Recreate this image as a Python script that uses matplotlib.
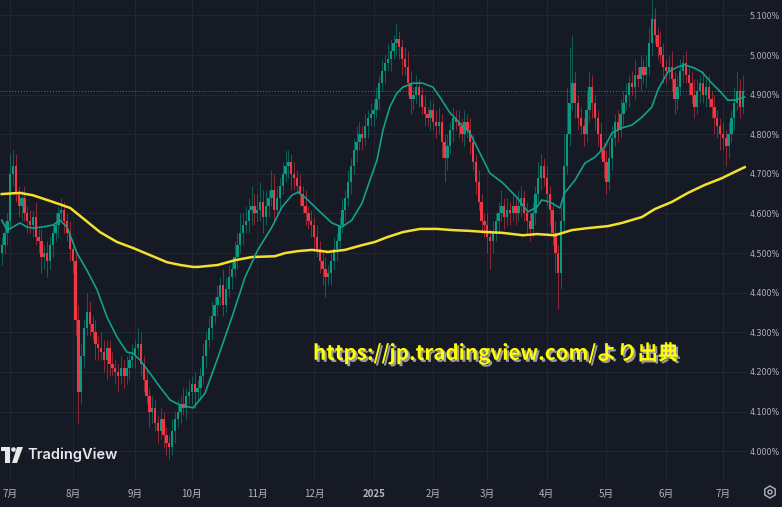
import numpy as np
import matplotlib.pyplot as plt
import matplotlib.patches as mpatches
import matplotlib.patheffects as pe

plt.rcParams['font.family'] = ['Noto Sans CJK JP', 'DejaVu Sans']

# daily closes (%), 2024-06-26 .. 2025-07-10
closes = [
    4.52, 4.55, 4.58, 4.70, 4.72, 4.65, 4.62, 4.64, 4.60, 4.58,
    4.57, 4.59, 4.54, 4.53, 4.49, 4.50, 4.48, 4.52, 4.55, 4.57,
    4.60, 4.61, 4.58, 4.55, 4.51, 4.48, 4.33, 4.15, 4.24, 4.31,
    4.35, 4.32, 4.30, 4.27, 4.26, 4.25, 4.23, 4.26, 4.22, 4.21,
    4.20, 4.19, 4.21, 4.19, 4.21, 4.23, 4.24, 4.26, 4.27, 4.22,
    4.18, 4.14, 4.10, 4.11, 4.07, 4.05, 4.08, 4.04, 4.02, 4.01,
    4.05, 4.08, 4.10, 4.12, 4.11, 4.14, 4.15, 4.17, 4.15, 4.16,
    4.19, 4.24, 4.28, 4.31, 4.34, 4.37, 4.39, 4.42, 4.37, 4.41,
    4.44, 4.46, 4.49, 4.52, 4.55, 4.57, 4.58, 4.61, 4.62, 4.60,
    4.61, 4.63, 4.59, 4.62, 4.64, 4.66, 4.61, 4.64, 4.67, 4.70,
    4.72, 4.73, 4.70, 4.69, 4.67, 4.65, 4.62, 4.60, 4.58, 4.57,
    4.54, 4.51, 4.48, 4.46, 4.44, 4.45, 4.48, 4.51, 4.53, 4.57,
    4.61, 4.64, 4.68, 4.72, 4.76, 4.78, 4.80, 4.79, 4.82, 4.84,
    4.85, 4.86, 4.89, 4.93, 4.96, 4.98, 4.99, 5.01, 5.03, 5.04,
    5.02, 4.99, 4.97, 4.93, 4.89, 4.90, 4.92, 4.90, 4.87, 4.85,
    4.84, 4.86, 4.83, 4.82, 4.83, 4.78, 4.74, 4.77, 4.81, 4.84,
    4.83, 4.82, 4.80, 4.83, 4.81, 4.78, 4.73, 4.68, 4.63, 4.58,
    4.57, 4.54, 4.53, 4.55, 4.58, 4.60, 4.62, 4.59, 4.61, 4.60,
    4.62, 4.60, 4.62, 4.64, 4.60, 4.58, 4.56, 4.60, 4.65, 4.69,
    4.72, 4.69, 4.65, 4.61, 4.55, 4.50, 4.45, 4.58, 4.72, 4.80,
    4.88, 4.93, 4.88, 4.84, 4.82, 4.80, 4.86, 4.92, 4.88, 4.84,
    4.80, 4.76, 4.73, 4.68, 4.74, 4.79, 4.83, 4.81, 4.85, 4.88,
    4.90, 4.93, 4.92, 4.95, 4.94, 4.97, 4.95, 4.97, 5.03, 5.09,
    5.05, 5.02, 5.00, 4.97, 4.96, 4.97, 4.94, 4.89, 4.92, 4.96,
    4.98, 4.95, 4.93, 4.90, 4.87, 4.91, 4.93, 4.90, 4.92, 4.89,
    4.87, 4.84, 4.82, 4.80, 4.79, 4.77, 4.80, 4.84, 4.88, 4.91,
    4.87, 4.91,
]
first_open = 4.50

# wick lengths above / below the body, in 0.01 %
hi_ext = [
    2, 3, 2, 5, 4, 3, 2, 2, 3, 2,   3, 2, 4, 2, 3, 2, 3, 2, 2, 3,
    2, 3, 2, 2, 3, 2, 3, 4, 3, 2,   5, 3, 2, 3, 2, 4, 3, 2, 2, 3,
    2, 2, 3, 2, 3, 2, 3, 2, 4, 3,   2, 3, 2, 3, 2, 2, 3, 2, 2, 2,
    3, 2, 3, 2, 4, 2, 3, 2, 3, 2,   2, 3, 2, 3, 4, 2, 3, 2, 4, 3,
    3, 2, 4, 3, 5, 3, 4, 3, 5, 3,   4, 5, 3, 4, 2, 5, 4, 3, 2, 3,
    4, 3, 2, 3, 2, 3, 2, 4, 2, 3,   2, 3, 2, 2, 3, 2, 2, 3, 2, 2,
    3, 2, 3, 2, 3, 4, 3, 2, 3, 2,   3, 2, 3, 2, 3, 2, 4, 3, 2, 4,
    2, 2, 3, 4, 3, 2, 3, 2, 2, 3,   2, 3, 2, 3, 4, 2, 2, 3, 2, 3,
    2, 3, 2, 3, 2, 3, 2, 2, 3, 2,   2, 3, 2, 3, 2, 3, 4, 2, 3, 2,
    3, 2, 4, 3, 2, 3, 2, 3, 2, 4,   3, 2, 3, 2, 2, 3, 2, 4, 8, 12,
    14, 12, 3, 2, 3, 2, 5, 4, 3, 2,  2, 3, 2, 3, 4, 3, 2, 3, 4, 3,
    3, 2, 3, 4, 2, 3, 2, 3, 4, 5,   3, 2, 4, 3, 2, 3, 4, 2, 3, 3,
    2, 3, 2, 3, 4, 3, 2, 3, 2, 3,   2, 3, 2, 2, 3, 2, 3, 2, 4, 5,
    3, 4,
]
lo_ext = [
    3, 2, 3, 2, 3, 2, 3, 4, 2, 3,   2, 3, 2, 3, 4, 3, 4, 2, 3, 2,
    3, 2, 3, 2, 3, 3, 4, 8, 3, 3,   2, 3, 2, 4, 3, 2, 3, 5, 3, 2,
    3, 4, 2, 3, 2, 3, 2, 3, 2, 3,   3, 2, 4, 3, 2, 3, 2, 3, 3, 3,
    2, 3, 2, 3, 2, 3, 2, 3, 4, 2,   3, 2, 3, 2, 3, 2, 3, 2, 3, 2,
    2, 3, 2, 3, 2, 3, 2, 3, 4, 3,   2, 3, 4, 2, 3, 2, 3, 2, 3, 2,
    2, 3, 4, 3, 2, 3, 2, 3, 2, 3,   3, 2, 3, 4, 5, 2, 3, 2, 3, 2,
    2, 3, 2, 3, 2, 3, 2, 3, 2, 3,   2, 3, 2, 3, 2, 3, 2, 3, 2, 3,
    3, 4, 2, 3, 4, 3, 2, 3, 2, 3,   2, 3, 2, 3, 2, 4, 6, 3, 2, 3,
    2, 3, 2, 3, 2, 3, 2, 3, 2, 3,   3, 4, 7, 3, 2, 3, 2, 3, 2, 3,
    2, 3, 2, 3, 2, 3, 3, 2, 3, 2,   3, 2, 3, 4, 3, 5, 9, 4, 3, 2,
    3, 2, 4, 3, 2, 3, 2, 3, 4, 3,   3, 2, 4, 3, 2, 3, 2, 3, 2, 3,
    2, 3, 2, 3, 2, 3, 2, 3, 2, 3,   2, 3, 2, 4, 3, 2, 3, 4, 3, 2,
    3, 2, 3, 2, 3, 2, 3, 2, 3, 2,   3, 4, 3, 4, 3, 5, 3, 2, 3, 2,
    3, 2,
]

# short moving average (teal), sampled
ma_s_idx = [0, 1.9, 4, 6.4, 8.9, 11, 14.5, 18.1, 20.5, 23, 26.5, 30, 33.6, 37.1, 40.6,
            44.1, 46.2, 48.7, 52.2, 55.7, 59.3, 62.8, 66.3, 67.4, 71.6, 76.2, 81.1,
            85.7, 90.2, 95.2, 98.7, 102.2, 104.3, 106.8, 111.4, 116.3, 119.8, 123.3,
            126.9, 129.7, 132.2, 134.3, 136.7, 139.2, 141.3, 144.8, 148.3, 151.9,
            154.3, 157.9, 161.4, 164.9, 168.4, 171.9, 176.5, 181.4, 185.3, 188.5,
            190.2, 193.1, 196.6, 198.3, 201.9, 205.4, 208.9, 212.4, 214.9, 218.4,
            221.9, 225.5, 229, 231.1, 234.6, 238.1, 240.6, 244.1, 246.6, 250.1,
            253.6, 255.7, 258.2, 261.7]
ma_s_val = [4.583, 4.558, 4.566, 4.576, 4.566, 4.563, 4.566, 4.571, 4.583, 4.566, 4.500,
            4.457, 4.407, 4.338, 4.288, 4.250, 4.247, 4.230, 4.197, 4.162, 4.129, 4.116,
            4.111, 4.109, 4.146, 4.237, 4.338, 4.439, 4.508, 4.566, 4.616, 4.646, 4.654,
            4.641, 4.609, 4.576, 4.566, 4.583, 4.626, 4.684, 4.735, 4.811, 4.869, 4.904,
            4.919, 4.929, 4.929, 4.919, 4.894, 4.854, 4.828, 4.803, 4.753, 4.702, 4.677,
            4.641, 4.604, 4.616, 4.634, 4.629, 4.614, 4.652, 4.684, 4.727, 4.742, 4.768,
            4.803, 4.816, 4.823, 4.843, 4.869, 4.912, 4.957, 4.970, 4.975, 4.967, 4.957,
            4.929, 4.904, 4.886, 4.886, 4.894]

# long moving average (yellow), sampled
ma_l_idx = [0, 6.4, 11, 18.1, 24.1, 28.6, 34.6, 40.6, 46.2, 52.2, 58.2, 62.8, 67.4, 69.1,
            76.2, 82.1, 88.1, 96.2, 99.8, 104.3, 109.3, 114.9, 120.9, 126.9, 131.4,
            135.7, 141.3, 147.3, 153.3, 158.9, 164.9, 170.9, 176.5, 183.6, 188.5,
            194.8, 200.8, 206.4, 213.5, 218.4, 225.5, 230, 236, 241.7, 247.6, 253.6,
            258.2, 261.7]
ma_l_val = [4.649, 4.652, 4.646, 4.629, 4.614, 4.588, 4.553, 4.528, 4.513, 4.495, 4.477,
            4.470, 4.465, 4.465, 4.470, 4.482, 4.490, 4.492, 4.500, 4.505, 4.508, 4.503,
            4.508, 4.520, 4.528, 4.540, 4.553, 4.561, 4.561, 4.558, 4.556, 4.553, 4.551,
            4.545, 4.548, 4.545, 4.558, 4.563, 4.568, 4.576, 4.591, 4.611, 4.629, 4.652,
            4.672, 4.689, 4.705, 4.717]

month_idx = [3, 25, 47, 67, 90, 110, 131, 152, 171, 192, 213, 234, 254]
month_lab = ['7月', '8月', '9月', '10月', '11月', '12月', '2025', '2月', '3月', '4月', '5月', '6月', '7月']
y_ticks = [4.0, 4.1, 4.2, 4.3, 4.4, 4.5, 4.6, 4.7, 4.8, 4.9, 5.0, 5.1]
last_price = 4.909

bg = '#151a25'
up = '#089981'
down = '#f23645'

c = np.array(closes)
o = np.array([first_open] + closes[:-1])
hi = np.maximum(o, c) + np.array(hi_ext) * 0.01
lo = np.minimum(o, c) - np.array(lo_ext) * 0.01
x = np.arange(len(c))
is_up = c >= o
cols = np.where(is_up, up, down)

fig = plt.figure(figsize=(7.82, 5.07), dpi=100, facecolor=bg)
ax = fig.add_axes([0, 25 / 507, 747 / 782, 482 / 507])
ax.set_facecolor(bg)

# grid
for yv in y_ticks:
    ax.axhline(yv, color='#222632', lw=0.8, zorder=0)
for xv in month_idx:
    ax.axvline(xv, color='#222632', lw=0.8, zorder=0)

# candles
ax.vlines(x, lo, hi, colors=cols, lw=0.7, alpha=0.55, zorder=2)
ax.bar(x, np.maximum(np.abs(c - o), 0.002), bottom=np.minimum(o, c), width=0.82,
       color=cols, linewidth=0, zorder=3)

ax.plot(ma_l_idx, ma_l_val, color='#f5e02c', lw=1.8, zorder=4)
ax.plot(ma_s_idx, ma_s_val, color='#14a08a', lw=1.2, zorder=4)
ax.axhline(last_price, color=up, lw=0.7, ls=(0, (1, 2)), zorder=1)

ax.set_xlim(-0.6, 262.5)
ax.set_ylim(3.922, 5.139)

ax.yaxis.tick_right()
ax.set_yticks(y_ticks)
ax.set_yticklabels(['%.3f%%' % v for v in y_ticks])
ax.set_xticks(month_idx)
ax.set_xticklabels(month_lab)
ax.tick_params(axis='y', length=0, pad=2, labelsize=5.8, labelcolor='#b2b5be')
ax.tick_params(axis='x', length=0, pad=5, labelsize=7, labelcolor='#b2b5be')
for lab in ax.get_yticklabels():
    lab.set_family(['Liberation Sans Narrow', 'DejaVu Sans'])
for lab in ax.get_xticklabels():
    if lab.get_text() == '2025':
        lab.set_fontweight('bold')
for s in ax.spines.values():
    s.set_visible(False)

# overlay in pixel coords for watermark, note and icon
ov = fig.add_axes([0, 0, 1, 1], facecolor='none')
ov.set_xlim(0, 782)
ov.set_ylim(507, 0)
ov.axis('off')

# TradingView logo
ov.add_patch(mpatches.Rectangle((1, 447), 9, 4, color='#e8e8ec', lw=0))
ov.add_patch(mpatches.Rectangle((5, 447), 4.5, 16, color='#e8e8ec', lw=0))
ov.add_patch(mpatches.Circle((13.5, 449.5), 2.3, color='#e8e8ec', lw=0))
ov.add_patch(mpatches.Polygon([(17, 447), (23, 447), (17, 463), (12, 463)], color='#e8e8ec', lw=0))
ov.text(27, 455, 'TradingView', color='#e8e8ec', fontsize=10.5, fontweight='semibold',
        va='center', ha='left', family=['Inter', 'DejaVu Sans'])

ov.text(313, 353, 'https://jp.tradingview.com/より出典', color='#ffff00', fontsize=14.8,
        fontweight='bold', va='center', ha='left',
        path_effects=[pe.withSimplePatchShadow(offset=(1.5, -1.5), shadow_rgbFace='#9a9a9a', alpha=1)])

ov.add_patch(mpatches.RegularPolygon((770, 492), 6, radius=6, fill=False, ec='#b2b5be', lw=1))
ov.add_patch(mpatches.Circle((770, 492), 2, fill=False, ec='#b2b5be', lw=1))

fig.savefig('out.png', dpi=100, facecolor=bg)
